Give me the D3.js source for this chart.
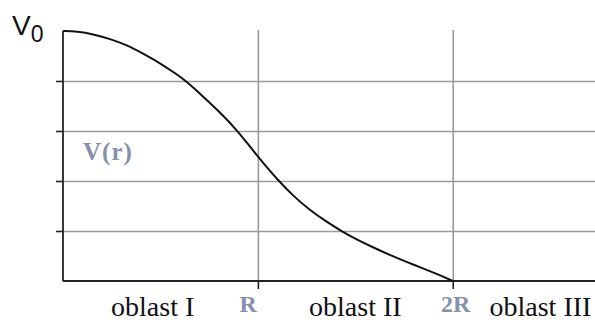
<!DOCTYPE html>
<html>
<head>
<meta charset="utf-8">
<script src="https://cdn.jsdelivr.net/npm/d3@7"></script>
<style>
  body { margin: 0; background: #fff; }
  svg { display: block; }
</style>
</head>
<body>
<div id="chart"></div>
<script>
// r in units of R, V in units of V0
var rValues = [0, 0.072, 0.154, 0.241, 0.328, 0.41, 0.497, 0.585, 0.626, 0.703, 0.805, 0.892, 0.959, 1.0,
               1.046, 1.103, 1.179, 1.267, 1.354, 1.436, 1.508, 1.59, 1.677, 1.764, 1.846, 1.933, 2.0];
var vValues = [1, 0.998, 0.988, 0.968, 0.944, 0.91, 0.872, 0.826, 0.803, 0.75, 0.675, 0.604, 0.538, 0.498,
               0.455, 0.404, 0.342, 0.283, 0.236, 0.196, 0.166, 0.135, 0.104, 0.076, 0.051, 0.024, 0];

var gridV = [0.2, 0.4, 0.6, 0.8];
var tickR = [1, 2];
var tickLabels = ["R", "2R"];
var regionNames = ["oblast I", "oblast II", "oblast III"];

function createChart(div) {
    var width = 595, height = 322;
    var left = 63, right = 595, top = 31, bottom = 281;

    var svg = d3.select(div)
        .append("svg")
        .attr("width", width)
        .attr("height", height);

    var x = d3.scaleLinear().domain([0, 2.73]).range([left, right]);
    var y = d3.scaleLinear().domain([0, 1]).range([bottom, top]);

    // horizontal grid
    svg.append("g")
        .attr("transform", "translate(" + left + ",0)")
        .call(d3.axisLeft(y).tickValues(gridV).tickSize(-(right - left)).tickFormat(""))
        .call(function(g) { g.select(".domain").remove(); })
        .selectAll("line")
        .attr("stroke", "#9a9a9a")
        .attr("stroke-width", 1.6);

    // vertical grid at R and 2R
    svg.append("g")
        .attr("transform", "translate(0," + bottom + ")")
        .call(d3.axisBottom(x).tickValues(tickR).tickSize(-(bottom - top + 1)).tickFormat(""))
        .call(function(g) { g.select(".domain").remove(); })
        .selectAll("line")
        .attr("stroke", "#9a9a9a")
        .attr("stroke-width", 1.6);

    // small ticks on the y axis
    svg.append("g")
        .attr("transform", "translate(" + left + ",0)")
        .call(d3.axisLeft(y).tickValues(gridV).tickSize(7).tickFormat(""))
        .call(function(g) { g.select(".domain").remove(); })
        .selectAll("line")
        .attr("stroke", "#222")
        .attr("stroke-width", 1.6);

    // x axis ticks below
    var xAxis = svg.append("g")
        .attr("transform", "translate(0," + bottom + ")")
        .call(d3.axisBottom(x).tickValues(tickR).tickSize(8).tickFormat(""));
    xAxis.select(".domain").remove();
    xAxis.selectAll("line").attr("stroke", "#222").attr("stroke-width", 1.6);

    // axis lines
    svg.append("line")
        .attr("x1", left).attr("x2", right)
        .attr("y1", bottom).attr("y2", bottom)
        .attr("stroke", "#222").attr("stroke-width", 1.8);
    svg.append("line")
        .attr("x1", left).attr("x2", left)
        .attr("y1", y(1)).attr("y2", bottom)
        .attr("stroke", "#222").attr("stroke-width", 1.8);

    // curve
    var pts = rValues.map(function(r, i) { return [r, vValues[i]]; });
    var line = d3.line()
        .x(function(d) { return x(d[0]); })
        .y(function(d) { return y(d[1]); })
        .curve(d3.curveBasis);
    svg.append("path")
        .datum(pts)
        .attr("d", line)
        .attr("fill", "none")
        .attr("stroke", "#111")
        .attr("stroke-width", 2);

    // V0 label
    var v0 = svg.append("text")
        .attr("x", 12)
        .attr("y", 35)
        .style("font-family", "Arial, 'Liberation Sans', sans-serif")
        .style("fill", "#111");
    v0.append("tspan").style("font-size", "28px").text("V");
    v0.append("tspan").style("font-size", "23px").attr("dy", 7).text("0");

    // V(r) label
    svg.append("text")
        .attr("x", 83)
        .attr("y", 160)
        .style("font-family", "'Liberation Serif', 'Times New Roman', serif")
        .style("font-weight", "bold")
        .style("font-size", "25px")
        .style("letter-spacing", "1px")
        .style("fill", "#8590ab")
        .text("V(r)");

    // R, 2R labels
    var labAnchor = ["end", "middle"];
    var labShift = [-1, 3];
    svg.selectAll(".rlab")
        .data(tickR)
        .enter().append("text")
        .attr("class", "rlab")
        .attr("x", function(d, i) { return x(d) + labShift[i]; })
        .attr("y", 312)
        .attr("text-anchor", function(d, i) { return labAnchor[i]; })
        .style("font-family", "'Liberation Serif', 'Times New Roman', serif")
        .style("font-weight", "bold")
        .style("font-size", "24px")
        .style("fill", "#8590ab")
        .text(function(d, i) { return tickLabels[i]; });

    // region labels
    var regionPos = [0.46, 1.5, 2.45];
    svg.selectAll(".region")
        .data(regionNames)
        .enter().append("text")
        .attr("class", "region")
        .attr("x", function(d, i) { return x(regionPos[i]); })
        .attr("y", 316)
        .attr("text-anchor", "middle")
        .style("font-family", "'Liberation Serif', 'Times New Roman', serif")
        .style("font-size", "28px")
        .style("fill", "#111")
        .text(function(d) { return d; });
}

createChart("#chart");
</script>
</body>
</html>
